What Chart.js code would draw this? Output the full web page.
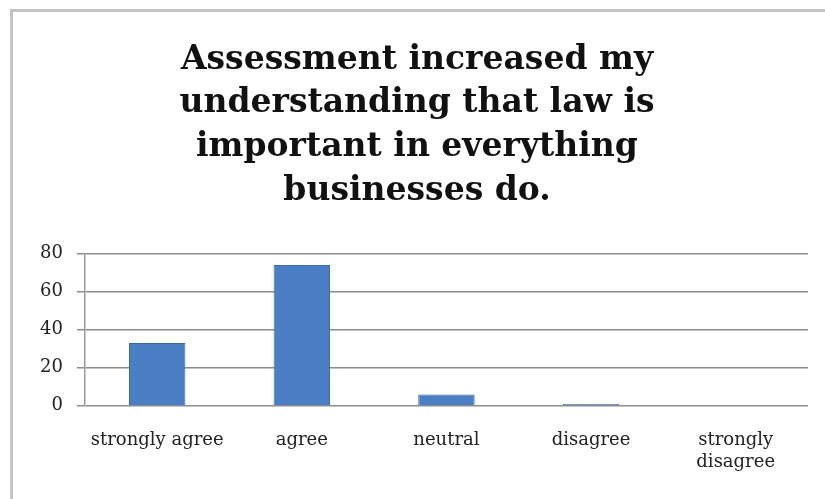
<!DOCTYPE html>
<html>
<head>
<meta charset="utf-8">
<script src="https://cdn.jsdelivr.net/npm/chart.js@4.4.1/dist/chart.umd.min.js"></script>
<style>
  html, body { margin: 0; padding: 0; background: #fff; }
  #frame {
    position: absolute; left: 10px; top: 9px; width: 815px; height: 490px;
    border-top: 3px solid #c4c4c4; border-left: 3px solid #c4c4c4;
  }
  #wrap { position: absolute; left: 0; top: 0; width: 825px; height: 499px; }
</style>
</head>
<body>
<div id="frame"></div>
<div id="wrap"><canvas id="surveyChart" width="825" height="499"></canvas></div>
<script>
const titleLines = [
  "Assessment increased my",
  "understanding that law is",
  "important in everything",
  "businesses do."
];
const categories = ["strongly agree", "agree", "neutral", "disagree", ["strongly", "disagree"]];
const responses = [33, 74, 6, 1, 0];
const yTicks = [0, 20, 40, 60, 80];

document.addEventListener("DOMContentLoaded", () => {
  const ctx = document.getElementById("surveyChart").getContext("2d");

  new Chart(ctx, {
    type: "bar",
    data: {
      labels: categories,
      datasets: [{
        label: "Responses",
        data: responses,
        backgroundColor: "#4a7fc6",
        borderColor: "#3b68a6",
        borderWidth: 1,
        categoryPercentage: 1,
        barPercentage: 0.39
      }]
    },
    options: {
      responsive: false,
      animation: false,
      layout: {
        padding: { left: 26, right: 17, top: 38, bottom: 10 }
      },
      scales: {
        x: {
          grid: { display: false },
          border: { display: false },
          ticks: {
            color: "#222",
            font: { family: "DejaVu Serif", size: 18 },
            maxRotation: 0,
            padding: 16
          }
        },
        y: {
          min: 0,
          max: 80,
          afterBuildTicks: axis => {
            axis.ticks = yTicks.map(v => ({ value: v }));
          },
          grid: {
            color: "#8c8c8c",
            lineWidth: 1.5,
            tickLength: 8
          },
          border: { display: true, color: "#9a9a9a", width: 1.5 },
          ticks: {
            color: "#222",
            font: { family: "DejaVu Serif", size: 18 },
            padding: 14
          }
        }
      },
      plugins: {
        legend: { display: false },
        tooltip: { enabled: false },
        title: {
          display: true,
          text: titleLines,
          color: "#111",
          font: { family: "DejaVu Serif", size: 33, weight: "bold", lineHeight: 1.33 },
          padding: { top: 0, bottom: 40 }
        }
      }
    }
  });
});
</script>
</body>
</html>
